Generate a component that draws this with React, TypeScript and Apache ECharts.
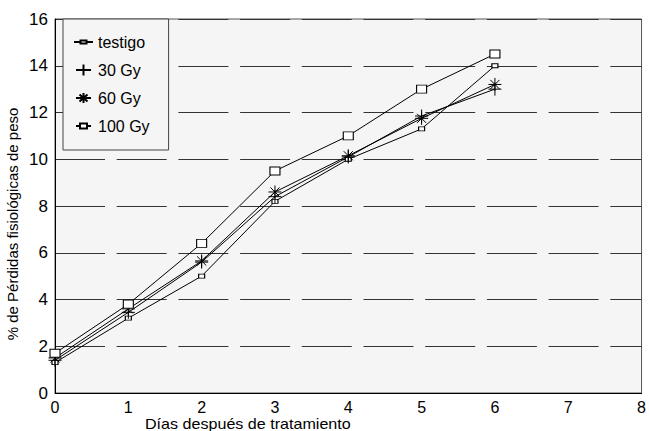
import React, { useEffect, useRef } from "react";
import * as echarts from "echarts";

const days = [0, 1, 2, 3, 4, 5, 6];
const seriesNames = ["testigo", "30 Gy", "60 Gy", "100 Gy"];
const testigo = [1.3, 3.2, 5.0, 8.2, 10.0, 11.3, 14.0];
const gy30 = [1.4, 3.45, 5.6, 8.4, 10.1, 11.85, 13.0];
const gy60 = [1.5, 3.6, 5.65, 8.6, 10.15, 11.75, 13.2];
const gy100 = [1.7, 3.8, 6.4, 9.5, 11.0, 13.0, 14.5];
const xTitle = "Días después de tratamiento";
const yTitle = "% de Pérdidas fisiológicas de peso";

const FONT = "'Liberation Sans', Arial, Helvetica, sans-serif";

const plusPath = "path://M0,6L12,6M6,0L6,12";
const starPath = "path://M0,6L12,6M6,0L6,12M1.8,1.8L10.2,10.2M10.2,1.8L1.8,10.2";

// legend icons (line + small marker), box 0..19 x 0..14
const BOX = "M0,0L0,0M19,14L19,14";
const legendIcons = [
  `path://${BOX}M0,7L6.5,7M12.5,7L19,7M6.5,5.5L12.5,5.5L12.5,8.5L6.5,8.5Z`,
  `path://${BOX}M2,7L17,7M9.5,1.5L9.5,12.5`,
  `path://${BOX}M2,7L17,7M9.5,2L9.5,12M5.5,3.5L13.5,10.5M13.5,3.5L5.5,10.5`,
  `path://${BOX}M2,7L6,7M13,7L17,7M6,4.5L13,4.5L13,9.5L6,9.5Z`,
];

function mk(name: string, vals: number[], symbol: string, size: any) {
  return {
    name,
    type: "line",
    data: days.map((d, i) => [d, vals[i]]),
    symbol,
    symbolSize: size,
    showAllSymbol: true,
    lineStyle: { color: "#000", width: 1 },
    itemStyle: { color: "#fff", borderColor: "#000", borderWidth: 1 },
    emphasis: { disabled: true },
    z: 3,
  };
}

export default function App() {
  const ref = useRef<HTMLDivElement>(null);
  useEffect(() => {
    if (!ref.current) return;
    const chart = echarts.init(ref.current, undefined, { renderer: "svg" });
    chart.setOption({
      animation: false,
      backgroundColor: "#fff",
      textStyle: { fontFamily: FONT },
      grid: {
        left: 55,
        top: 19,
        width: 587,
        height: 374,
        show: true,
        backgroundColor: "#f5f5f5",
        borderColor: "#555",
        borderWidth: 1,
      },
      xAxis: {
        type: "value",
        min: 0,
        max: 8,
        interval: 1,
        axisLine: { show: true, lineStyle: { color: "#000", width: 1 } },
        axisTick: { show: false },
        splitLine: { show: false },
        axisLabel: { color: "#000", fontSize: 16, margin: 6, fontFamily: FONT },
      },
      yAxis: {
        type: "value",
        min: 0,
        max: 16,
        interval: 2,
        axisLine: { show: true, lineStyle: { color: "#000", width: 1 } },
        axisTick: { show: false },
        splitLine: {
          show: true,
          lineStyle: { color: "#333", width: 1, type: [50, 11.7] },
        },
        axisLabel: { color: "#000", fontSize: 17, margin: 7, fontFamily: FONT },
      },
      legend: {
        show: true,
        orient: "vertical",
        left: 63,
        top: 19,
        padding: [15, 19, 16, 10],
        itemWidth: 19,
        itemHeight: 14,
        itemGap: 12,
        backgroundColor: "#f5f5f5",
        borderColor: "#444",
        borderWidth: 1,
        borderRadius: 0,
        textStyle: { color: "#000", fontSize: 16, fontFamily: FONT },
        data: seriesNames.map((n, i) => ({ name: n, icon: legendIcons[i] })),
      },
      graphic: [
        {
          type: "text",
          x: 145,
          y: 417,
          scaleX: 1.15,
          style: { text: xTitle, fill: "#000", font: `14px ${FONT}` },
        },
        {
          type: "text",
          x: 12,
          y: 224,
          rotation: Math.PI / 2,
          style: {
            text: yTitle,
            fill: "#000",
            font: `15px ${FONT}`,
            align: "center",
            verticalAlign: "middle",
          },
        },
      ],
      series: [
        mk(seriesNames[0], testigo, "rect", [6, 4]),
        mk(seriesNames[1], gy30, plusPath, 13),
        mk(seriesNames[2], gy60, starPath, 13),
        mk(seriesNames[3], gy100, "rect", [10, 8]),
      ],
    });
    return () => chart.dispose();
  }, []);
  return (
    <div
      ref={ref}
      style={{ position: "absolute", left: 0, top: 0, width: 649, height: 431 }}
    />
  );
}
